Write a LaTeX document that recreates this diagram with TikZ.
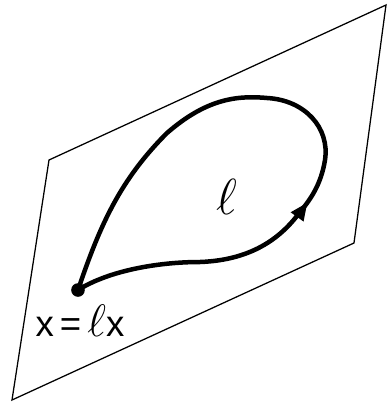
\documentclass[tikz,border=0pt]{standalone}
\usepackage{fontspec}
\usepackage{graphicx}
\setmainfont{Liberation Sans}
\usetikzlibrary{arrows.meta, decorations.markings}

\begin{document}
\begin{tikzpicture}[x=0.025cm, y=-0.025cm,
      plane/.style={draw=black, line width=0.9pt, line join=miter},
      loopline/.style={draw=black, line width=3.2pt, line cap=round,
                       postaction={decorate}, decoration={markings,
                       mark=at position 0.37 with {\arrow{Triangle[length=0.45cm, width=0.36cm]}}}},
      basept/.style={circle, fill=black, inner sep=0pt, minimum size=0.34cm},
      lbl/.style={font=\fontsize{26}{30}\selectfont, inner sep=0pt}
    ]
    \useasboundingbox (0,0) rectangle (387,404);

    % the plane
    \draw[plane] (49,160) -- (386,5) -- (354,243) -- (12,400) -- cycle;

    \node[basept] (x0) at (78,290) {};
    \node[lbl] (loopname) at (227,197) {\scalebox{1.45}{$\ell$}};
    \node[lbl] (fixname)  at (80,321) {x\,=\,\raisebox{-0.02em}{\scalebox{1.3}{$\ell$}}x};

    % the loop through x
    \draw[loopline] (x0.center)
        .. controls (110,270) and (160,262) .. (200,262)
        .. controls (255,260) and (283,235) .. (300,212)
        .. controls (310,200) and (321,185) .. (325,160)
        .. controls (330,128) and (305,100) .. (267,98)
        .. controls (235,95) and (205,100) .. (167,133)
        .. controls (120,180) and (100,225) .. (x0.center);
  \end{tikzpicture}
\end{document}
